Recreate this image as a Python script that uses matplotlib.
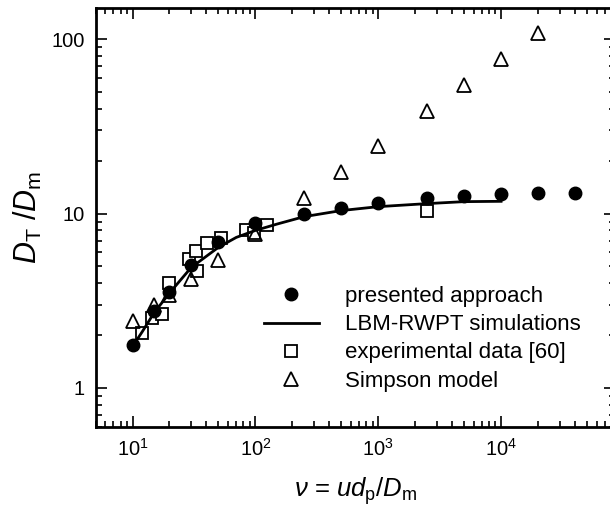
import matplotlib
matplotlib.use("Agg")
import matplotlib.pyplot as plt
from matplotlib.ticker import LogLocator, NullFormatter

plt.rcParams['font.family'] = ['Liberation Sans', 'DejaVu Sans']
plt.rcParams['mathtext.fontset'] = 'custom'
plt.rcParams['mathtext.rm'] = 'Liberation Sans'
plt.rcParams['mathtext.it'] = 'Liberation Sans:italic'
plt.rcParams['mathtext.bf'] = 'Liberation Sans:bold'

# presented approach (filled circles)
pa_x = [10, 15, 20, 30, 50, 100, 250, 500, 1000, 2500, 5000, 1e4, 2e4, 4e4]
pa_y = [1.77, 2.75, 3.56, 5.1, 6.9, 8.84, 10.0, 10.8, 11.5, 12.3, 12.6, 12.9, 13.2, 13.2]

# LBM-RWPT simulations (line)
lbm_x = [10.5, 12, 15, 20, 30, 50, 70, 100, 150, 250, 500, 1000, 2500, 5000, 1e4]
lbm_y = [1.82, 2.1, 2.7, 3.5, 4.9, 6.4, 7.3, 8.0, 8.7, 9.6, 10.4, 10.95, 11.4, 11.7, 11.75]

# experimental data [60] (open squares)
exp_x = [12, 14.3, 17.5, 20, 28.8, 32.6, 33.6, 40.6, 53, 83.4, 98, 125, 2500]
exp_y = [2.07, 2.52, 2.67, 4.0, 5.52, 6.08, 4.69, 6.82, 7.24, 8.02, 7.7, 8.57, 10.4]

# Simpson model (open triangles)
sim_x = [10, 15, 20, 30, 50, 100, 250, 500, 1000, 2500, 5000, 1e4, 2e4]
sim_y = [2.42, 2.98, 3.4, 4.19, 5.4, 7.6, 12.2, 17.2, 24.4, 38.5, 54.3, 77.3, 109]

fig = plt.figure(figsize=(6.1, 5.14), dpi=100)
ax = fig.add_axes([0.1566, 0.170, 0.852, 0.8136])

ax.plot(pa_x, pa_y, 'o', color='black', ms=9, label='presented approach', zorder=4)
ax.plot(lbm_x, lbm_y, '-', color='black', lw=2, label='LBM-RWPT simulations', zorder=3)
ax.plot(exp_x, exp_y, 's', mfc='white', mec='black', mew=1.3, ms=8,
        label='experimental data [60]', zorder=2)
ax.plot(sim_x, sim_y, '^', mfc='none', mec='black', mew=1.3, ms=10,
        label='Simpson model', zorder=2)

ax.set_xscale('log')
ax.set_yscale('log')
ax.set_xlim(5, 8.5e4)
ax.set_ylim(0.6, 150)

ax.set_yticks([1, 10, 100])
ax.set_yticklabels(['1', '10', '100'])
ax.xaxis.set_major_locator(LogLocator(base=10, numticks=10))
ax.xaxis.set_minor_locator(LogLocator(base=10, subs=range(2, 10), numticks=20))
ax.yaxis.set_minor_locator(LogLocator(base=10, subs=range(2, 10), numticks=20))
ax.xaxis.set_minor_formatter(NullFormatter())
ax.yaxis.set_minor_formatter(NullFormatter())

ax.tick_params(which='both', direction='in', top=True, right=True, width=1.2)
ax.tick_params(which='major', length=8, labelsize=14.5, pad=8)
ax.tick_params(which='minor', length=4)
for s in ax.spines.values():
    s.set_linewidth(2)

ax.set_xlabel(r'$\nu$ = $ud_{\mathrm{p}}/D_{\mathrm{m}}$', fontsize=18.5, labelpad=11)
ax.set_ylabel(r'$D_{\mathrm{T}}\,\,/D_{\mathrm{m}}$', fontsize=22, labelpad=5)

ax.legend(loc='lower left', bbox_to_anchor=(0.285, 0.036), frameon=False,
          fontsize=16, handlelength=2.5, handletextpad=1.15, labelspacing=0.32,
          numpoints=1)

fig.savefig('out.png', dpi=100)
